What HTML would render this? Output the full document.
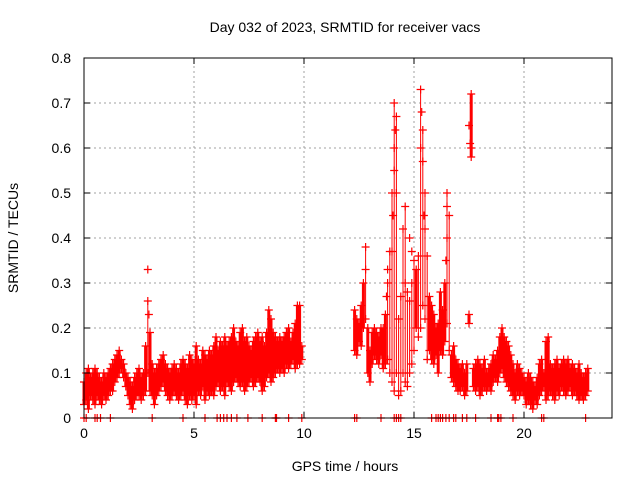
<!DOCTYPE html>
<html><head><meta charset="utf-8">
<style>
html,body{margin:0;padding:0;background:#fff;}
svg{display:block;font-family:"Liberation Sans",sans-serif;}
</style></head>
<body>
<svg id="chart" width="640" height="480" xmlns="http://www.w3.org/2000/svg">
<rect width="640" height="480" fill="#fff"/>
<text x="345" y="32" font-size="14" text-anchor="middle">Day 032 of 2023, SRMTID for receiver vacs</text>
<text x="345" y="471" font-size="14" text-anchor="middle">GPS time / hours</text>
<text transform="translate(18,238) rotate(-90)" font-size="14" text-anchor="middle">SRMTID / TECUs</text>
<g id="grid"></g>
<g id="marks"></g>
<rect x="84" y="58" width="528" height="360" fill="none" stroke="#000" stroke-width="1"/>
<g id="axes"></g>
</svg>
<script>
const xTicks=[0,5,10,15,20];
const yTicks=[0,0.1,0.2,0.3,0.4,0.5,0.6,0.7,0.8];
const yTickLabels=["0","0.1","0.2","0.3","0.4","0.5","0.6","0.7","0.8"];
const segAStart=0, segBStart=12.3, step=0.1;
const segALow=[0.03,0.04,0.02,0.05,0.04,0.03,0.05,0.04,0.03,0.05,
0.04,0.05,0.06,0.06,0.08,0.09,0.1,0.11,0.09,0.07,
0.05,0.03,0.02,0.04,0.05,0.05,0.04,0.05,0.06,0.1,
0.06,0.05,0.03,0.05,0.06,0.07,0.08,0.06,0.05,0.04,
0.05,0.06,0.05,0.04,0.05,0.06,0.04,0.03,0.05,0.04,
0.05,0.03,0.06,0.05,0.07,0.04,0.06,0.05,0.06,0.05,
0.07,0.08,0.06,0.07,0.05,0.08,0.07,0.06,0.08,0.09,
0.08,0.07,0.08,0.06,0.07,0.08,0.09,0.07,0.08,0.09,
0.08,0.06,0.07,0.09,0.1,0.08,0.09,0.1,0.11,0.1,
0.11,0.1,0.12,0.11,0.12,0.13,0.11,0.12,0.12,0.13];
const segAHigh=[0.08,0.1,0.11,0.09,0.1,0.11,0.1,0.09,0.08,0.1,
0.09,0.1,0.11,0.12,0.13,0.14,0.15,0.13,0.12,0.1,
0.09,0.08,0.07,0.09,0.1,0.11,0.09,0.1,0.16,0.26,
0.19,0.12,0.1,0.11,0.12,0.13,0.14,0.12,0.11,0.1,
0.11,0.12,0.11,0.1,0.12,0.13,0.12,0.11,0.14,0.13,
0.12,0.16,0.13,0.12,0.15,0.14,0.13,0.15,0.14,0.16,
0.18,0.15,0.17,0.16,0.18,0.16,0.17,0.18,0.2,0.17,
0.16,0.19,0.2,0.17,0.18,0.16,0.15,0.17,0.18,0.19,
0.17,0.18,0.16,0.19,0.24,0.22,0.19,0.18,0.17,0.18,
0.17,0.18,0.19,0.2,0.17,0.19,0.21,0.25,0.25,0.16];
const segBLow=[0.15,0.14,0.17,0.16,0.2,0.22,0.1,0.08,0.12,0.14,
0.13,0.12,0.14,0.11,0.12,0.13,0.1,0.08,0.06,0.1,
0.05,0.06,0.1,0.08,0.07,0.1,0.12,0.15,0.2,0.18,
0.2,0.25,0.22,0.13,0.15,0.13,0.12,0.14,0.1,0.15,
0.14,0.17,0.21,0.15,0.09,0.08,0.07,0.06,0.06,0.07,
0.05,0.06,0.21,0.58,0.07,0.06,0.07,0.05,0.06,0.07,
0.06,0.07,0.06,0.08,0.09,0.08,0.1,0.11,0.09,0.08,
0.07,0.06,0.05,0.04,0.06,0.05,0.06,0.05,0.03,0.04,
0.03,0.02,0.04,0.03,0.05,0.06,0.07,0.04,0.05,0.06,
0.05,0.04,0.06,0.05,0.07,0.06,0.05,0.06,0.07,0.05,
0.06,0.05,0.04,0.05,0.04,0.05,0.06];
const segBHigh=[0.24,0.22,0.21,0.25,0.3,0.38,0.2,0.15,0.19,0.2,
0.19,0.18,0.2,0.2,0.23,0.3,0.37,0.5,0.7,0.67,
0.22,0.27,0.42,0.47,0.28,0.26,0.3,0.35,0.33,0.36,
0.73,0.64,0.5,0.36,0.27,0.25,0.23,0.2,0.21,0.28,
0.24,0.3,0.5,0.45,0.14,0.16,0.13,0.12,0.11,0.12,
0.1,0.12,0.23,0.72,0.11,0.12,0.13,0.12,0.11,0.13,
0.1,0.11,0.12,0.14,0.13,0.15,0.18,0.2,0.18,0.17,
0.16,0.14,0.12,0.1,0.12,0.11,0.1,0.09,0.08,0.1,
0.09,0.08,0.07,0.09,0.12,0.13,0.1,0.17,0.18,0.12,
0.11,0.12,0.13,0.11,0.12,0.13,0.12,0.13,0.11,0.12,
0.11,0.1,0.12,0.1,0.09,0.1,0.11];
const spikeTimes=[2.9,2.95,14.1,14.1,14.15,15.3,15.35,15.4,17.5,17.55,17.6,16.5,16.5,14.8,14.9,13.8,13.75,12.8,14.05,15.5,14.0,14.2,15.45,16.45,14.6];
const spikeValues=[0.33,0.23,0.6,0.55,0.64,0.6,0.68,0.57,0.65,0.61,0.6,0.4,0.47,0.4,0.37,0.33,0.27,0.33,0.45,0.42,0.37,0.5,0.45,0.35,0.3];
const zeroTimes=[0,0.1,0.5,0.6,0.75,1.2,3.1,4.5,5.5,6.05,6.2,6.35,6.5,6.7,6.95,7.45,8.1,8.7,8.75,9.3,9.9,
12.3,12.4,13.5,14.1,14.2,14.3,14.4,15.8,16,16.1,16.2,16.3,16.45,16.6,16.8,16.9,17.2,17.4,17.8,18.5,18.8,18.85,18.95,19.5,20.8,20.9,22.8];

const NS="http://www.w3.org/2000/svg";
const X0=84,X1=612,Y0=418,Y1=58,XMAX=24,YMAX=0.8;
function xs(t){return X0+(X1-X0)*t/XMAX;}
function ys(v){return Y0-(Y0-Y1)*v/YMAX;}
function mk(tag,attrs,parent){const e=document.createElementNS(NS,tag);for(const k in attrs)e.setAttribute(k,attrs[k]);parent.appendChild(e);return e;}
const grid=document.getElementById('grid'),axes=document.getElementById('axes'),marks=document.getElementById('marks');
xTicks.forEach(t=>{
  const x=xs(t);
  if(t>0){const g=mk('line',{x1:x,x2:x,y1:Y0,y2:Y1,stroke:'#a0a0a0','stroke-dasharray':'2,3'},grid);
  
  }
  mk('line',{x1:x,x2:x,y1:Y0,y2:Y0-6,stroke:'#000'},axes);
  mk('line',{x1:x,x2:x,y1:Y1,y2:Y1+6,stroke:'#000'},axes);
  const l=mk('text',{x:x,y:Y0+20,'font-size':'14','text-anchor':'middle'},axes);l.textContent=t;
  
  
});
yTicks.forEach((v,i)=>{
  const y=ys(v);
  if(v>0&&v<YMAX){const g=mk('line',{x1:X0,x2:X1,y1:y,y2:y,stroke:'#a0a0a0','stroke-dasharray':'2,3'},grid);
  
  }
  mk('line',{x1:X0,x2:X0+6,y1:y,y2:y,stroke:'#000'},axes);
  mk('line',{x1:X1,x2:X1-6,y1:y,y2:y,stroke:'#000'},axes);
  const l=mk('text',{x:X0-13,y:y+5,'font-size':'14','text-anchor':'end'},axes);l.textContent=yTickLabels[i];
  
  
});
function plus(t,v,color){
  const x=xs(t),y=ys(v);
  const p=mk('path',{d:`M${x-4},${y}H${x+4}M${x},${y-4}V${y+4}`,stroke:color,'stroke-width':'1.2',fill:'none'},marks);
  
  
}
function band(t,lo,hi){
  const x=xs(t);
  const w=(hi-lo)>0.15?1:3;
  const b=mk('line',{x1:x,x2:x,y1:ys(lo),y2:ys(hi),stroke:'#ff0000','stroke-width':w},marks);
  
  
  plus(t,lo,'#ff0000');plus(t,hi,'#ff0000');
}
zeroTimes.forEach(t=>{plus(t,0,'#ff0000');});
segALow.forEach((lo,i)=>band(segAStart+i*step,lo,segAHigh[i]));
segBLow.forEach((lo,i)=>band(segBStart+i*step,lo,segBHigh[i]));
spikeTimes.forEach((t,i)=>plus(t,spikeValues[i],'#ff0000'));
</script>
</body></html>
